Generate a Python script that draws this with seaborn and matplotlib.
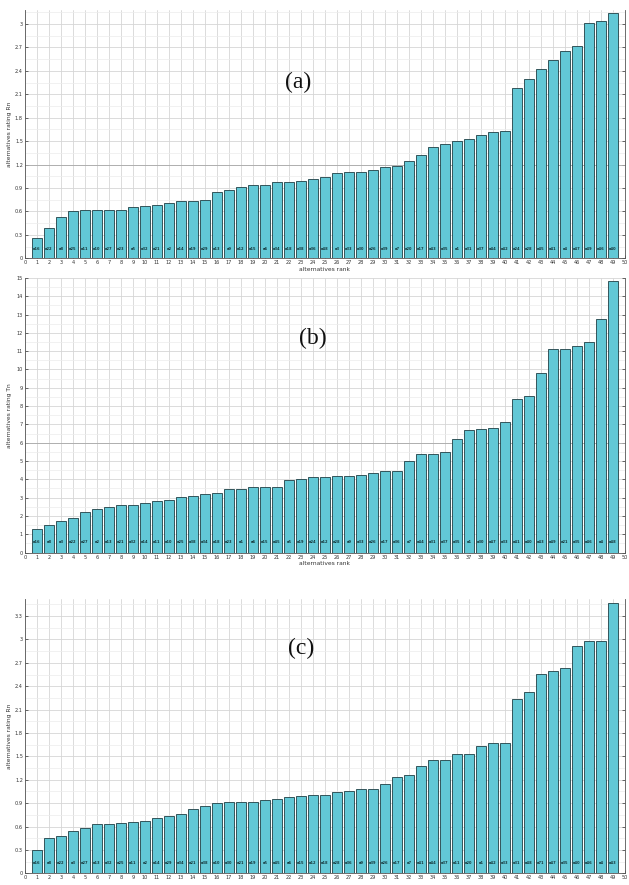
import matplotlib
matplotlib.use("Agg")
import matplotlib.pyplot as plt
import matplotlib.transforms as mtransforms
import numpy as np
import pandas as pd
import seaborn as sns

# ranks 1..49
ranks = list(range(1, 50))

# panel (a)
vals_a = [0.256, 0.393, 0.533, 0.610, 0.623, 0.623, 0.623, 0.623, 0.660, 0.670,
          0.683, 0.713, 0.730, 0.734, 0.743, 0.854, 0.875, 0.913, 0.939, 0.939,
          0.973, 0.973, 0.994, 1.016, 1.037, 1.088, 1.110, 1.110, 1.131, 1.169,
          1.182, 1.250, 1.319, 1.421, 1.460, 1.502, 1.532, 1.579, 1.622, 1.635,
          2.185, 2.296, 2.420, 2.544, 2.650, 2.719, 3.017, 3.039, 3.146]
labels_a = ["a16", "a22", "a8", "a25", "a11", "a10", "a27", "a23", "a5", "a32",
            "a21", "a2", "a14", "a19", "a29", "a13", "a9", "a12", "a15", "a6",
            "a34", "a18", "a38", "a36", "a48", "a3", "a33", "a30", "a26", "a39",
            "a7", "a20", "a17", "a43", "a35", "a1", "a31", "a37", "a44", "a42",
            "a24", "a28", "a45", "a41", "a4", "a47", "a49", "a46", "a40"]

# panel (b)
vals_b = [1.31, 1.51, 1.73, 1.88, 2.19, 2.39, 2.48, 2.61, 2.61, 2.68,
          2.83, 2.88, 3.03, 3.09, 3.20, 3.25, 3.49, 3.49, 3.56, 3.60,
          3.60, 3.97, 4.04, 4.11, 4.11, 4.19, 4.19, 4.24, 4.33, 4.48,
          4.48, 5.01, 5.40, 5.40, 5.51, 6.22, 6.68, 6.74, 6.83, 7.14,
          8.38, 8.53, 9.79, 11.13, 11.13, 11.27, 11.48, 12.76, 14.85]
labels_b = ["a16", "a8", "a3", "a22", "a27", "a2", "a13", "a21", "a32", "a14",
            "a11", "a10", "a25", "a38", "a34", "a18", "a23", "a1", "a6", "a15",
            "a45", "a5", "a19", "a24", "a12", "a28", "a9", "a33", "a26", "a17",
            "a36", "a7", "a44", "a31", "a37", "a35", "a1", "a30", "a47", "a33",
            "a41", "a40", "a43", "a49", "a21", "a35", "a46", "a4", "a48"]

# panel (c)
vals_c = [0.294, 0.448, 0.478, 0.546, 0.576, 0.627, 0.632, 0.649, 0.662, 0.670,
          0.713, 0.730, 0.764, 0.824, 0.858, 0.900, 0.909, 0.909, 0.913, 0.947,
          0.956, 0.973, 0.995, 1.003, 1.003, 1.041, 1.050, 1.088, 1.088, 1.144,
          1.233, 1.259, 1.379, 1.451, 1.460, 1.536, 1.536, 1.639, 1.673, 1.677,
          2.236, 2.330, 2.557, 2.590, 2.633, 2.915, 2.975, 2.979, 3.466]
labels_c = ["a16", "a8", "a22", "a3", "a27", "a13", "a32", "a25", "a11", "a2",
            "a14", "a29", "a34", "a21", "a38", "a10", "a30", "a21", "a19", "a5",
            "a45", "a6", "a15", "a12", "a18", "a28", "a36", "a9", "a39", "a26",
            "a17", "a7", "a41", "a44", "a37", "a11", "a20", "a1", "a42", "a33",
            "a31", "a48", "a71", "a47", "a35", "a40", "a46", "a4", "a43"]

panels = [
    ("(a)", vals_a, labels_a, "alternatives rating Rn", 3.18, np.arange(0, 3.01, 0.3), 1.2),
    ("(b)", vals_b, labels_b, "alternatives rating Tn", 15, np.arange(0, 15.1, 1), 6),
    ("(c)", vals_c, labels_c, "alternatives rating Rn", 3.52, np.arange(0, 3.31, 0.3), None),
]

# axes rectangles in figure fraction (left, bottom, width, height)
rects = [(0.0397, 0.7081, 0.9539, 0.2806),
         (0.0397, 0.3757, 0.9539, 0.3102),
         (0.0397, 0.0132, 0.9539, 0.3100)]
letter_pos = [(0.455, 0.71), (0.48, 0.78), (0.46, 0.82)]

sns.set_theme(style="white")
plt.rcParams['font.family'] = ['DejaVu Sans']

fig = plt.figure(figsize=(6.29, 8.85), dpi=100)

for i, (tag, vals, labs, ylab, ymax, yticks, dark_y) in enumerate(panels):
    ax = fig.add_axes(rects[i])
    df = pd.DataFrame({"rank": ranks, "value": vals})
    sns.barplot(data=df, x="rank", y="value", native_scale=True, ax=ax,
                color="#62c8d6", saturation=1, width=0.85,
                edgecolor="#1f3f44", linewidth=0.6, zorder=3)
    ax.set_xlim(0, 50)
    ax.set_ylim(0, ymax)
    ax.set_xticks(range(0, 51))
    ax.set_yticks(yticks)
    ax.set_yticklabels([("%g" % round(t, 1)) for t in yticks])
    step = yticks[1] - yticks[0]
    ax.set_yticks(np.arange(step / 2, ymax, step), minor=True)
    ax.grid(which="major", color="#d6d6d6", linewidth=0.6, zorder=0)
    ax.grid(which="minor", axis="y", color="#ececec", linewidth=0.5, zorder=0)
    if dark_y is not None:
        ax.axhline(dark_y, color="#a8a8a8", linewidth=0.6, zorder=1)
    ax.tick_params(axis="both", which="major", labelsize=3.6, length=2.5,
                   width=0.5, pad=1.5, colors="#333333", direction="in",
                   right=True, left=True, bottom=True)
    ax.tick_params(which="minor", length=0)
    for s in ["left", "bottom", "right"]:
        ax.spines[s].set_color("#555555")
        ax.spines[s].set_linewidth(0.6)
    ax.spines["top"].set_visible(False)
    ax.set_ylabel(ylab, fontsize=4.3, color="#333333")
    ax.yaxis.set_label_coords(-0.022, 0.5)
    if i < 2:
        ax.set_xlabel("alternatives rank", fontsize=4.3, color="#333333", labelpad=1)
    else:
        ax.set_xlabel("")
    trans = mtransforms.blended_transform_factory(ax.transData, ax.transAxes)
    for r, lab in zip(ranks, labs):
        ax.text(r, 0.038, lab, transform=trans, fontsize=2.6, ha="center",
                va="center", color="#16383c", fontweight="bold", zorder=4)
    ax.text(letter_pos[i][0], letter_pos[i][1], tag, transform=ax.transAxes,
            fontsize=17, family="Liberation Serif", ha="center", va="center",
            color="#111111", zorder=5)

fig.savefig("out.png", dpi=100)
